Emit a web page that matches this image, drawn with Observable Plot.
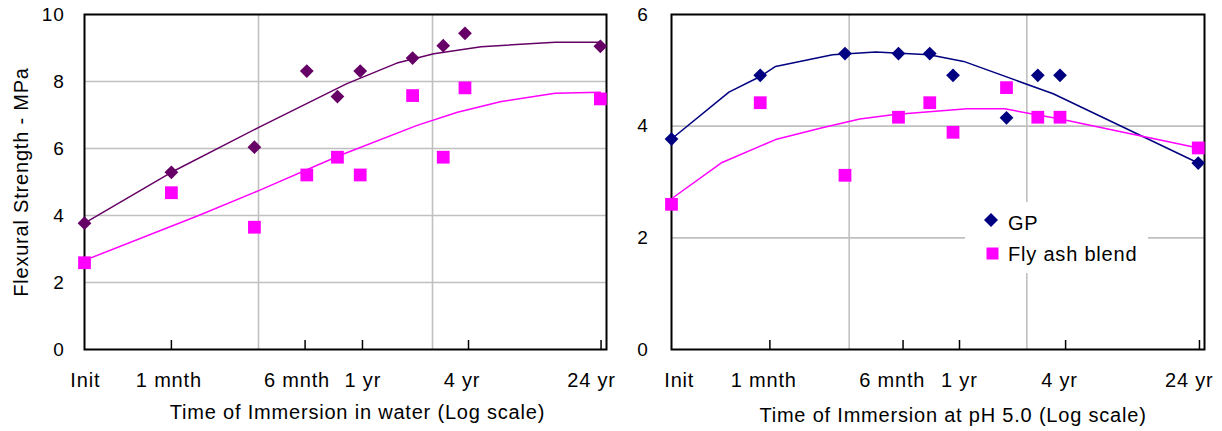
<!DOCTYPE html>
<html><head><meta charset="utf-8">
<script src="https://cdn.jsdelivr.net/npm/d3@7"></script>
<script src="https://cdn.jsdelivr.net/npm/@observablehq/plot@0.6"></script>
<style>
body{margin:0;background:#fff;}
#wrap{position:relative;width:1222px;height:431px;display:flex;}
svg text{letter-spacing:0.8px;}
#legend{position:absolute;left:965px;top:202px;width:183px;height:71px;background:#fff;}
</style></head><body><div id="wrap"></div>
<script>
// Time of immersion (days) for each measurement
const days = [9.5, 30, 90, 180, 270, 365, 730, 1095, 1460, 8760];
// Flexural strength (MPa) – immersion in water
const waterGP = [3.77, 5.29, 6.04, 8.31, 7.55, 8.31, 8.70, 9.07, 9.44, 9.05];
const waterFA = [2.59, 4.68, 3.65, 5.21, 5.74, 5.21, 7.58, 5.74, 7.81, 7.48];
// Flexural strength (MPa) – immersion at pH 5.0
const acidGP = [3.77, 4.91, 5.30, 5.30, 5.30, 4.91, 4.15, 4.91, 4.91, 3.34];
const acidFA = [2.60, 4.42, 3.12, 4.16, 4.42, 3.89, 4.69, 4.16, 4.16, 3.61];

// Trend lines
const waterGPTrendDays = [9.5, 30, 96, 304, 593, 967, 1810, 4810, 8760];
const waterGPTrend = [3.77, 5.29, 6.64, 7.93, 8.55, 8.83, 9.04, 9.17, 9.17];
const waterFATrendDays = [9.5, 43, 96, 278, 775, 1322, 2360, 4810, 8760];
const waterFATrend = [2.66, 4.0, 4.75, 5.79, 6.69, 7.08, 7.40, 7.65, 7.68];
const acidGPTrendDays = [9.5, 20, 30, 36.6, 76.6, 134, 268, 419, 1337, 8760];
const acidGPTrend = [3.77, 4.61, 4.89, 5.07, 5.28, 5.33, 5.28, 5.16, 4.58, 3.34];
const acidFATrendDays = [9.5, 18.3, 36.6, 67, 109, 171, 438, 713, 1464, 8760];
const acidFATrend = [2.70, 3.35, 3.76, 3.97, 4.13, 4.21, 4.31, 4.31, 4.13, 3.61];

// Axis ticks and labels
const tickLabels = ["Init", "1 mnth", "6 mnth", "1 yr", "4 yr", "24 yr"];
const waterLabelDays = [9.6, 29, 158, 378, 1402, 7790];
const acidLabelDays = [10.5, 31.4, 166, 396, 1450, 7800];
const waterTickDays = [30, 176, 376, 1530, 8840];
const acidTickDays = [34, 191, 397, 1570, 8900];
const gridDays = [95, 950];
const waterYTicks = [0, 2, 4, 6, 8, 10];
const acidYTicks = [0, 2, 4, 6];
const seriesNames = ["GP", "Fly ash blend"];

const FONT = "'Liberation Sans', Arial, sans-serif";
const H = 431, MT = 14, MB = 82;

function panel(o) {
  const frameH = H - MT - MB;
  const marks = [
    Plot.gridY(o.yTicks.filter(v => v > 0 && v < o.yMax), {stroke: "#c0c0c0", strokeOpacity: 1, strokeWidth: 1.6}),
    Plot.gridX(gridDays, {stroke: "#c0c0c0", strokeOpacity: 1, strokeWidth: 1.6}),
    Plot.tickX(o.ticks, {x: d => d, stroke: "#000", strokeWidth: 1.5, insetTop: frameH - 9}),
    Plot.frame({stroke: "#000", strokeWidth: 2}),
    Plot.axisY(o.yTicks, {tickSize: 0, tickPadding: o.tickPadding, fontSize: 19, label: null, tickFormat: d => String(d)}),
    Plot.text(tickLabels, {x: o.labelX, text: d => d, frameAnchor: "bottom", dy: 31, lineAnchor: "middle", fontSize: 20}),
    Plot.text([o.xTitle], {frameAnchor: "bottom", dx: o.xTitleDx, dy: o.xTitleDy, lineAnchor: "middle", fontSize: 20}),
    Plot.line(o.gpTrend, {x: o.gpTrendX, y: d => d, stroke: o.gpColor, strokeWidth: 1.5}),
    Plot.line(o.faTrend, {x: o.faTrendX, y: d => d, stroke: "#ff00ff", strokeWidth: 1.5}),
    Plot.dot(o.gp, {x: days, y: d => d, symbol: "diamond2", r: 6.2, fill: o.gpColor, stroke: "none"}),
    Plot.dot(o.fa, {x: days, y: d => d, symbol: "square", r: 7.2, fill: "#ff00ff", stroke: "none"})
  ];
  if (o.yTitle) marks.push(Plot.text([o.yTitle], {frameAnchor: "left", dx: -63, rotate: -90, lineAnchor: "middle", textAnchor: "middle", fontSize: 20}));
  return Plot.plot({
    width: o.width, height: H,
    marginLeft: o.marginLeft, marginRight: o.marginRight, marginTop: MT, marginBottom: MB,
    style: {fontFamily: FONT, fontSize: "20px", color: "#000", background: "#fff", overflow: "visible"},
    x: {type: "log", domain: [9.5, 9500], axis: null},
    y: {domain: [0, o.yMax], axis: null},
    marks
  });
}

const wrap = document.getElementById("wrap");
wrap.append(panel({
  width: 620, marginLeft: 84, marginRight: 14, yMax: 10, yTicks: waterYTicks, tickPadding: 20,
  gpColor: "#660066", gp: waterGP, fa: waterFA,
  gpTrendX: waterGPTrendDays, gpTrend: waterGPTrend, faTrendX: waterFATrendDays, faTrend: waterFATrend,
  ticks: waterTickDays, labelX: waterLabelDays,
  xTitle: "Time of Immersion in water (Log scale)", xTitleDx: 12, xTitleDy: 63,
  yTitle: "Flexural Strength - MPa"
}));
wrap.append(panel({
  width: 602, marginLeft: 51, marginRight: 18, yMax: 6, yTicks: acidYTicks, tickPadding: 23,
  gpColor: "#000080", gp: acidGP, fa: acidFA,
  gpTrendX: acidGPTrendDays, gpTrend: acidGPTrend, faTrendX: acidFATrendDays, faTrend: acidFATrend,
  ticks: acidTickDays, labelX: acidLabelDays,
  xTitle: "Time of Immersion at pH 5.0 (Log scale)", xTitleDx: 15, xTitleDy: 66
}));

// Legend (overlay on right panel)
const leg = d3.select(wrap).append("div").attr("id", "legend")
  .append("svg").attr("width", 183).attr("height", 71)
  .style("font-family", FONT).style("font-size", "20px");
leg.append("path").attr("d", "M26,11L33,18L26,25L19,18Z").attr("fill", "#000080");
leg.append("text").attr("x", 43).attr("y", 28).text(seriesNames[0]);
leg.append("rect").attr("x", 21.5).attr("y", 45.5).attr("width", 12).attr("height", 12).attr("fill", "#ff00ff");
leg.append("text").attr("x", 43).attr("y", 58.7).text(seriesNames[1]);
</script></body></html>
